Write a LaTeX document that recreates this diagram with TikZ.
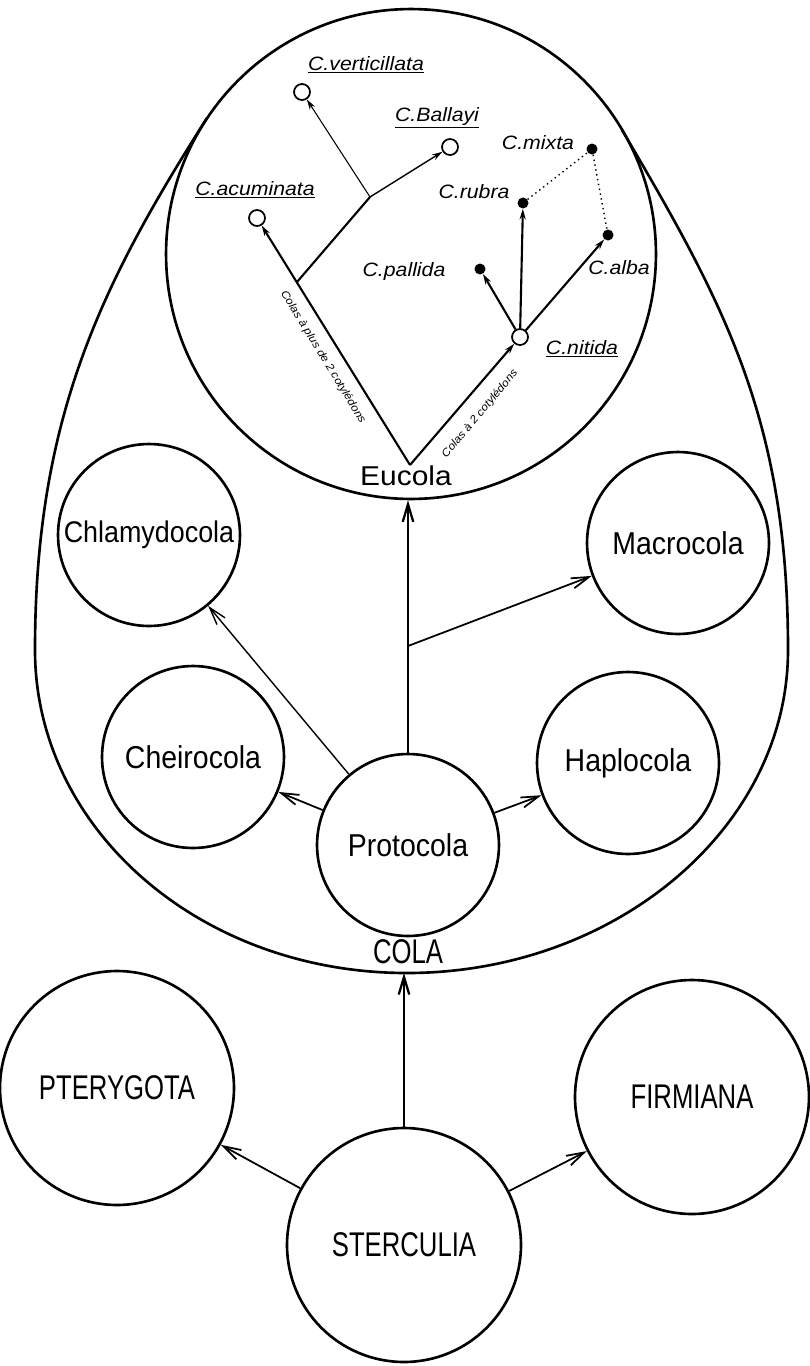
\documentclass[tikz,border=0pt]{standalone}
\usepackage{fontspec}
\newfontfamily\lettering[FakeStretch=0.9]{Liberation Sans}
\newfontfamily\capsletter[FakeStretch=0.75]{Liberation Sans}
\newfontfamily\species[FakeStretch=1.1]{Liberation Sans}
\usetikzlibrary{arrows.meta}

\begin{document}
\begin{tikzpicture}[x=0.02cm,y=-0.02cm]
\tikzset{group/.style={circle,draw,line width=1.5pt,inner sep=0pt,minimum size=3.64cm,font=\lettering\fontsize{18}{20}\selectfont}}
\tikzset{genus/.style={group,minimum size=4.68cm,font=\capsletter\fontsize{19.5}{20}\selectfont}}
\tikzset{rank/.style={inner sep=1pt}}
\tikzset{link/.style={-{Straight Barb[length=10pt,width=6pt]},line width=1pt}}
\tikzset{branch/.style={line width=1.2pt}}
\tikzset{tip/.style={-{Stealth[length=6pt,width=3.5pt]}}}
\tikzset{open sp/.style={circle,draw,line width=1pt,fill=white,inner sep=0pt,minimum size=0.32cm}}
\tikzset{dot sp/.style={circle,fill,inner sep=0pt,minimum size=0.22cm}}
\tikzset{sp name/.style={font=\species\itshape\fontsize{11}{12}\selectfont,inner sep=1pt}}
\tikzset{note/.style={font=\species\itshape\fontsize{6.2}{7}\selectfont,inner sep=0pt}}

\useasboundingbox (0,0) rectangle (810,1366);

% the genera
\node[genus] (stercu) at (404,1245) {STERCULIA};
\node[genus] (ptery) at (117,1088) {PTERYGOTA};
\node[genus] (firmi) at (692,1097) {FIRMIANA};

% sections of Cola
\node[group] (proto) at (408,845) {Protocola};
\node[group] (cheiro) at (193,757) {Cheirocola};
\node[group] (haplo) at (628,763) {Haplocola};
\node[group,font=\lettering\fontsize{17}{20}\selectfont] (chlamy) at (149,535) {Chlamydocola};
\node[group] (macro) at (678,543) {Macrocola};
\node[group,minimum size=9.8cm] (eucola) at (411,254) {};

% outline of Cola
\coordinate (cola) at (407,973);
\draw[line width=1.5pt] (207,118) .. controls (100,286) and (35,420) .. (35,650)
  .. controls (35,828) and (199,973) .. (cola)
  .. controls (615,973) and (788,828) .. (788,650)
  .. controls (788,420) and (724,303) .. (622,130);
\node[rank,font=\capsletter\fontsize{19.5}{20}\selectfont] (colaname) at (408,952) {COLA};
\node[rank,font=\species\fontsize{15.5}{18}\selectfont] (eucolaname) at (406,476) {Eucola};

\draw[link] (stercu) -- (ptery);
\draw[link] (stercu) -- (firmi);
\draw[link,line width=1.3pt] (stercu.north) -- (stercu.north |- cola);

\draw[link] (proto) -- (cheiro);
\draw[link] (proto) -- (haplo);
\draw[link,line width=0.8pt] (proto) -- (chlamy);
\draw[link,line width=1.3pt] (proto.north) -- (proto.north |- eucola.south);
\coordinate (split) at (408,646);
\draw[link] (split) -- (macro);

% species of Eucola
\coordinate (root) at (410,465);
\coordinate (fork) at (297,282);
\coordinate (junc) at (370,197);
\node[open sp] (acu) at (257,218) {};
\node[open sp] (vert) at (302,92) {};
\node[open sp] (ball) at (450,147) {};
\node[open sp] (nit) at (520,337) {};
\node[dot sp] (pal) at (480,269) {};
\node[dot sp] (rub) at (523,203) {};
\node[dot sp] (alb) at (608,235) {};
\node[dot sp] (mix) at (592,149) {};

\draw[branch,tip] (root) -- (acu);
\draw[branch,tip] (root) -- (nit);
\draw[branch] (fork) -- (junc);
\draw[line width=0.6pt,tip] (junc) -- (vert);
\draw[line width=0.8pt,tip] (junc) -- (ball);
\draw[branch,tip] (nit) -- (pal);
\draw[branch,tip] (nit) -- (rub);
\draw[branch,tip] (nit) -- (alb);
\draw[dotted,line width=0.8pt] (rub) -- (mix) -- (alb);

\node[sp name] (vertname) at (366,65) {\underline{C.verticillata}};
\node[sp name] (ballname) at (437,118) {\underline{C.Ballayi}};
\node[sp name] (mixname) at (538,143) {C.mixta};
\node[sp name] (rubname) at (474,192) {C.rubra};
\node[sp name] (acuname) at (255,190) {\underline{C.acuminata}};
\node[sp name] (palname) at (404,271) {C.pallida};
\node[sp name] (albname) at (619,268) {C.alba};
\node[sp name] (nitname) at (582,349) {\underline{C.nitida}};

\node[note,rotate=-58.5] (plus) at (323,357) {Colas à plus de 2 cotylédons};
\node[note,rotate=50] (deux) at (480,414) {Colas à 2 cotylédons};

\end{tikzpicture}
\end{document}
